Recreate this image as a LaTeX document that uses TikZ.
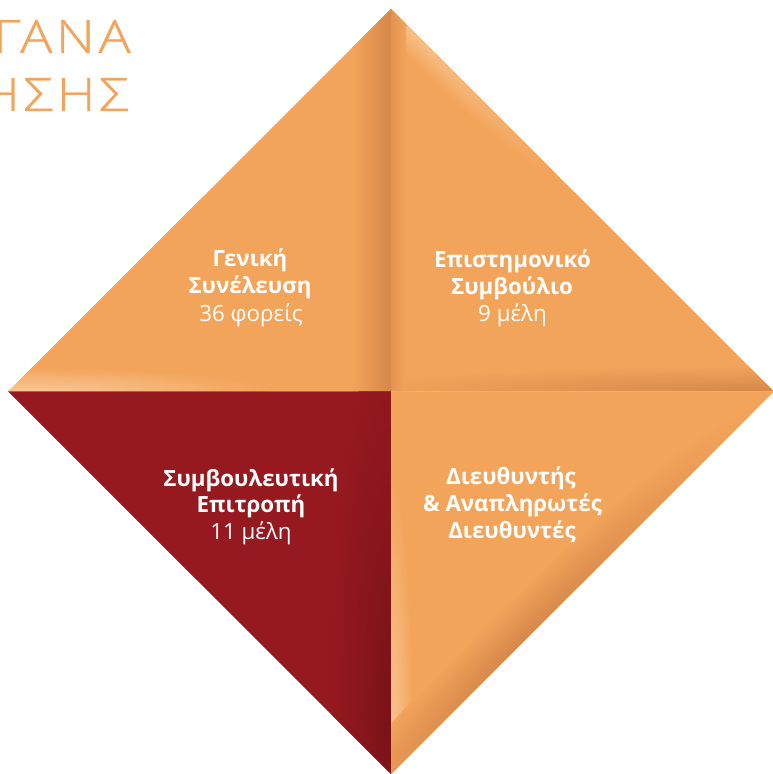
\documentclass[tikz,border=0pt]{standalone}
\usepackage{fontspec}
\setmainfont{Open Sans}
\newfontfamily\titlefont{Open Sans Light}[LetterSpace=8,FakeStretch=1.17,FakeBold=0.7]
\definecolor{org}{RGB}{243,164,91}
\definecolor{orgdk}{RGB}{212,135,72}
\definecolor{orglt}{RGB}{249,200,150}
\definecolor{redb}{RGB}{149,25,30}
\definecolor{reddk}{RGB}{122,18,24}
\definecolor{titleorg}{RGB}{244,163,90}
\begin{document}
\begin{tikzpicture}[x=1pt,y=1pt,
  boldline/.style={text=white, font=\bfseries\fontsize{22.3}{27}\selectfont, anchor=base, inner sep=0pt},
  lightline/.style={text=white, font=\fontsize{22.3}{27}\selectfont, anchor=base, inner sep=0pt},
  titleline/.style={text=titleorg, font=\titlefont\fontsize{46}{58}\selectfont, anchor=base east, inner sep=0pt}]
\useasboundingbox (0,0) rectangle (773,774);
\clip (0,0) rectangle (773,774);
\coordinate (C) at (391,382.5);
\coordinate (T) at (391,765);
\coordinate (B) at (391,0);
\coordinate (L) at (8,382.5);
\coordinate (R) at (774,382.5);

% top-left quadrant
\begin{scope}
  \clip (C) -- (T) -- (L) -- cycle;
  \fill[org] (C) -- (T) -- (L) -- cycle;
  \shade[inner color=orglt, outer color=org] (30,382.5) ellipse (240 and 24);
  \shade[left color=org, right color=orgdk] (352,382.5) rectangle (391,766);
\end{scope}

% top-right quadrant
\begin{scope}
  \clip (C) -- (R) -- (T) -- cycle;
  \fill[org] (C) -- (R) -- (T) -- cycle;
  \begin{scope}[transform canvas={shift={(391,765)}, rotate=-45}]
    \shade[inner color=orglt!80!org, outer color=org] (30,0) ellipse (200 and 22);
  \end{scope}
  \shade[inner color=orgdk, outer color=org] (774,382.5) ellipse (430 and 26);
  \shade[left color=orgdk!60!org, right color=org] (391,382.5) rectangle (406,766);
\end{scope}

% bottom-left quadrant
\begin{scope}
  \clip (C) -- (B) -- (L) -- cycle;
  \fill[redb] (C) -- (B) -- (L) -- cycle;
  \shade[inner color=reddk, outer color=redb] (391,60) ellipse (60 and 380);
\end{scope}

% bottom-right quadrant
\begin{scope}
  \clip (C) -- (B) -- (R) -- cycle;
  \fill[org] (C) -- (B) -- (R) -- cycle;
  \shade[inner color=orglt, outer color=org] (391,0) ellipse (22 and 300);
  \begin{scope}[transform canvas={shift={(774,382.5)}, rotate=-135}]
    \shade[inner color=orgdk, outer color=org] (360,0) ellipse (330 and 40);
  \end{scope}
\end{scope}

% title
\node[titleline] (t1) at (131,721) {ΟΡΓΑΝΑ};
\node[titleline] (t2) at (129,663) {ΔΙΟΙΚΗΣΗΣ};

% texts
\node[boldline] (a1) at (250,507) {Γενική};
\node[boldline] (a2) at (250,480) {Συνέλευση};
\node[lightline] (a3) at (251,452.5) {36 φορείς};

\node[boldline] (b1) at (512.5,506.5) {Επιστημονικό};
\node[boldline] (b2) at (512,479.5) {Συμβούλιο};
\node[lightline] (b3) at (512.5,452) {9 μέλη};

\node[boldline] (c1) at (251,287.5) {Συμβουλευτική};
\node[boldline] (c2) at (251,261) {Επιτροπή};
\node[lightline] (c3) at (251,234.5) {11 μέλη};

\node[boldline] (d1) at (511,289) {Διευθυντής};
\node[boldline] (d2) at (512.5,262.3) {\& Αναπληρωτές};
\node[boldline] (d3) at (512,235.7) {Διευθυντές};
\end{tikzpicture}
\end{document}
